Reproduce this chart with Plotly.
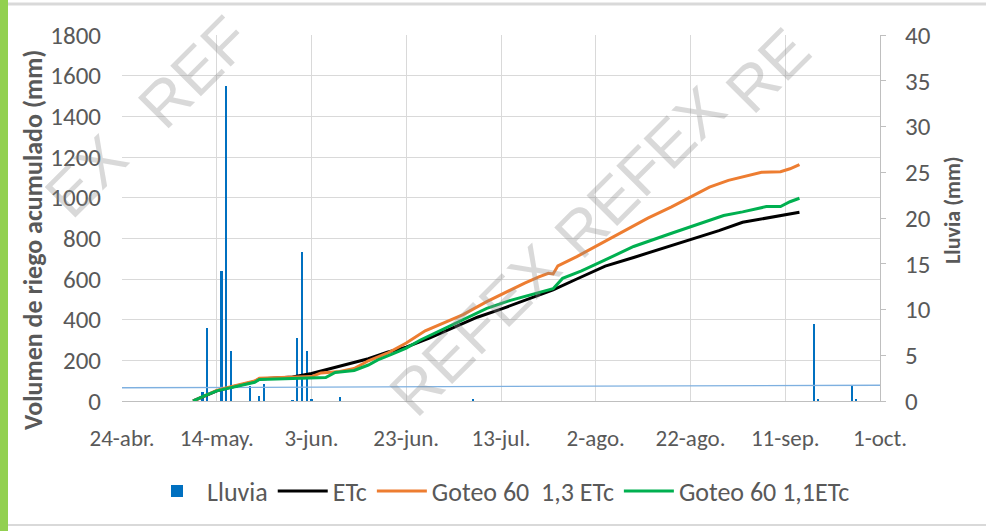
import plotly.graph_objects as go

# ---- data ----
rain_dates = ["2019-05-11", "2019-05-12", "2019-05-15", "2019-05-16", "2019-05-17",
              "2019-05-21", "2019-05-23", "2019-05-24", "2019-05-30", "2019-05-31",
              "2019-06-01", "2019-06-02", "2019-06-03", "2019-06-09", "2019-07-07",
              "2019-09-17", "2019-09-18", "2019-09-25", "2019-09-26"]
rain_mm = [1.0, 8.0, 14.2, 34.4, 5.5, 1.6, 0.6, 1.9, 0.1, 6.9,
           16.3, 5.5, 0.2, 0.4, 0.2, 8.4, 0.2, 1.8, 0.2]

trend_dates = ["2019-04-24", "2019-10-01"]
trend_mm = [1.45, 1.72]

etc_dates = ["2019-05-09", "2019-05-11", "2019-05-14", "2019-05-17", "2019-05-20",
             "2019-05-22", "2019-05-23", "2019-05-26", "2019-05-30", "2019-06-03",
             "2019-06-07", "2019-06-11", "2019-06-15", "2019-06-19", "2019-06-23",
             "2019-06-28", "2019-07-03", "2019-07-08", "2019-07-13", "2019-07-18",
             "2019-07-24", "2019-07-29", "2019-08-04", "2019-08-10", "2019-08-16",
             "2019-08-22", "2019-08-28", "2019-09-02", "2019-09-08", "2019-09-14"]
etc_mm = [0, 20, 50, 68, 82, 95, 108, 112, 118, 135,
          160, 182, 208, 240, 265, 310, 362, 412, 452, 494,
          546, 600, 663, 706, 749, 792, 838, 879, 902, 928]

g13_dates = ["2019-05-09", "2019-05-11", "2019-05-14", "2019-05-17", "2019-05-20",
             "2019-05-22", "2019-05-23", "2019-05-26", "2019-05-30", "2019-06-03",
             "2019-06-05", "2019-06-09", "2019-06-12", "2019-06-15", "2019-06-19",
             "2019-06-23", "2019-06-27", "2019-07-01", "2019-07-05", "2019-07-10",
             "2019-07-14", "2019-07-18", "2019-07-21", "2019-07-23", "2019-07-24",
             "2019-07-25", "2019-07-29", "2019-08-04", "2019-08-08", "2019-08-13",
             "2019-08-18", "2019-08-22", "2019-08-26", "2019-08-30", "2019-09-03",
             "2019-09-06", "2019-09-10", "2019-09-12", "2019-09-14"]
g13_mm = [0, 22, 52, 70, 85, 98, 112, 115, 118, 120,
          138, 145, 160, 198, 235, 285, 345, 385, 425, 489,
          535, 580, 610, 628, 625, 665, 710, 784, 835, 899,
          955, 1005, 1052, 1085, 1108, 1125, 1128, 1142, 1163]

g11_dates = ["2019-05-09", "2019-05-11", "2019-05-14", "2019-05-17", "2019-05-20",
             "2019-05-22", "2019-05-23", "2019-05-26", "2019-05-30", "2019-06-03",
             "2019-06-06", "2019-06-08", "2019-06-12", "2019-06-15", "2019-06-17",
             "2019-06-20", "2019-06-23", "2019-06-26", "2019-06-30", "2019-07-05",
             "2019-07-10", "2019-07-15", "2019-07-19", "2019-07-23", "2019-07-24",
             "2019-07-26", "2019-07-30", "2019-08-04", "2019-08-10", "2019-08-18",
             "2019-08-23", "2019-08-29", "2019-09-02", "2019-09-07", "2019-09-10",
             "2019-09-12", "2019-09-14"]
g11_mm = [0, 22, 50, 66, 80, 92, 106, 108, 108, 110,
          115, 140, 150, 177, 202, 230, 260, 300, 345, 400,
          456, 495, 521, 545, 552, 603, 640, 694, 760, 825,
          865, 912, 930, 956, 956, 980, 997]

tick_dates = ["2019-04-24", "2019-05-14", "2019-06-03", "2019-06-23", "2019-07-13",
              "2019-08-02", "2019-08-22", "2019-09-11", "2019-10-01"]
tick_labels = ["24-abr.", "14-may.", "3-jun.", "23-jun.", "13-jul.",
               "2-ago.", "22-ago.", "11-sep.", "1-oct."]

# watermark pieces: the part of each "REFEX" that shows inside the frame
watermark_text = ["REF", "EX", "REFEX", "REFEX", "RE"]

# ---- figure geometry (pixels) ----
W, H = 986, 531
ML, MR, MT, MB = 122, 106, 35, 130
PW, PH = W - ML - MR, H - MT - MB


def px(x):
    return (x - ML) / PW


def py(y):
    return 1 - (y - MT) / PH


FONT = "Calibri, Carlito, Lato, sans-serif"
GREY = "#595959"

fig = go.Figure()

fig.add_trace(go.Bar(
    x=rain_dates, y=rain_mm, name="Lluvia",
    marker=dict(color="#0070C0", line_width=0),
    width=0.45 * 86400000, yaxis="y"
))
fig.add_trace(go.Scatter(
    x=trend_dates, y=trend_mm, mode="lines", showlegend=False,
    line=dict(color="#7EB0E0", width=1.3), yaxis="y", hoverinfo="skip"
))
fig.add_trace(go.Scatter(
    x=etc_dates, y=etc_mm, mode="lines", name="ETc",
    line=dict(color="#000000", width=3), yaxis="y2"
))
fig.add_trace(go.Scatter(
    x=g13_dates, y=g13_mm, mode="lines", name="Goteo 60  1,3 ETc",
    line=dict(color="#ED7D31", width=3), yaxis="y2"
))
fig.add_trace(go.Scatter(
    x=g11_dates, y=g11_mm, mode="lines", name="Goteo 60 1,1ETc",
    line=dict(color="#00B050", width=3), yaxis="y2"
))

# watermark
wm_pos = [(194, 72), (86, 176), (475, 330), (640, 172), (768, 70)]
for txt, (cx, cy) in zip(watermark_text, wm_pos):
    fig.add_annotation(
        x=px(cx), y=py(cy), xref="paper", yref="paper", text=txt,
        xanchor="center", yanchor="middle",
        showarrow=False, textangle=-45,
        font=dict(family="Liberation Sans, Arial", size=63, color="rgba(140,140,140,0.33)")
    )

# axis titles (Excel puts the left one a bit lower than the plot middle)
fig.add_annotation(
    x=px(33), y=py(240), xref="paper", yref="paper", showarrow=False,
    text="<b>Volumen de riego acumulado (mm)</b>", textangle=-90,
    xanchor="center", yanchor="middle",
    font=dict(family=FONT, size=26, color=GREY)
)
fig.add_annotation(
    x=px(952), y=py(210), xref="paper", yref="paper", showarrow=False,
    text="<b>Lluvia (mm)</b>", textangle=-90,
    xanchor="center", yanchor="middle",
    font=dict(family=FONT, size=22, color=GREY)
)

# page frame: green strip on the left, grey rules top and bottom
fig.add_shape(type="rect", xref="paper", yref="paper",
              x0=px(0), x1=px(8), y0=py(H), y1=py(0),
              fillcolor="#92D050", line_width=0, layer="below")
fig.add_shape(type="line", xref="paper", yref="paper",
              x0=px(8), x1=px(W), y0=py(4), y1=py(4),
              line=dict(color="#d9d9d9", width=3))
fig.add_shape(type="line", xref="paper", yref="paper",
              x0=px(8), x1=px(W), y0=py(525), y1=py(525),
              line=dict(color="#d9d9d9", width=2))

fig.update_layout(
    width=W, height=H,
    margin=dict(l=ML, r=MR, t=MT, b=MB, autoexpand=False),
    paper_bgcolor="white", plot_bgcolor="white",
    font=dict(family=FONT, color=GREY),
    bargap=0,
    xaxis=dict(
        type="date", range=["2019-04-24", "2019-10-01"],
        tickvals=tick_dates, ticktext=tick_labels,
        tickfont=dict(size=23, color=GREY), ticks="", ticklabelstandoff=16,
        showgrid=True, gridcolor="#d9d9d9", gridwidth=1,
        showline=True, linecolor="#bfbfbf", linewidth=1
    ),
    yaxis=dict(
        side="right", range=[0, 40], dtick=5,
        showgrid=False, zeroline=False,
        showline=True, linecolor="#bfbfbf", linewidth=1,
        ticks="outside", ticklen=5, tickcolor="#bfbfbf",
        tickfont=dict(size=25, color=GREY), ticklabelstandoff=14
    ),
    yaxis2=dict(
        overlaying="y", side="left", range=[0, 1800], dtick=200,
        showgrid=True, gridcolor="#d9d9d9", gridwidth=1, zeroline=False,
        tickfont=dict(size=25, color=GREY), ticklabelstandoff=20
    ),
    legend=dict(
        orientation="h", x=0.5, xanchor="center", y=py(491), yanchor="middle",
        font=dict(size=26, color=GREY), traceorder="normal", itemwidth=50
    ),
    showlegend=True
)

# the page body has a default 8px margin; drop it so the figure sits at the corner
fig.write_html("out.html", config={"displayModeBar": False},
               post_script="document.body.style.margin='0';")
